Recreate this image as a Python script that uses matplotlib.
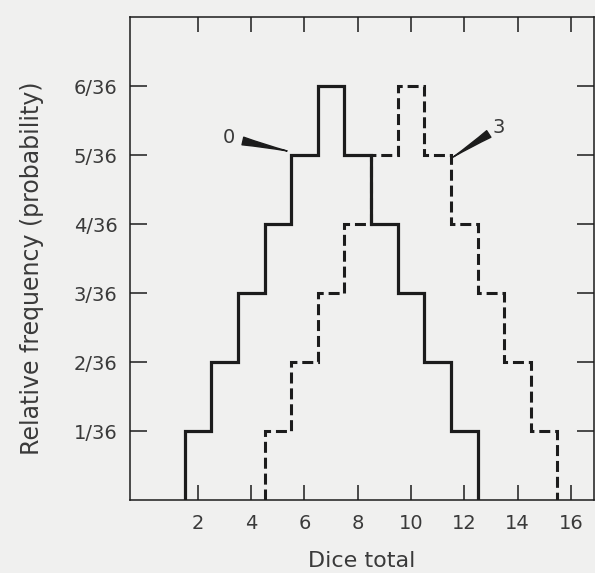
import matplotlib

matplotlib.use("Agg")
import matplotlib.pyplot as plt
import numpy as np

# Two-dice totals and their counts out of 36
dice_totals = [2, 3, 4, 5, 6, 7, 8, 9, 10, 11, 12]
ways = [1, 2, 3, 4, 5, 6, 5, 4, 3, 2, 1]
shift = 3
x_ticks = [2, 4, 6, 8, 10, 12, 14, 16]
y_ticks = [1, 2, 3, 4, 5, 6]

INK = "#1c1c1c"
TEXT = "#3a3a3a"
PAPER = "#f0f0ef"

plt.rcParams["font.family"] = ["DejaVu Sans"]

fig = plt.figure(figsize=(5.95, 5.73), dpi=100, facecolor=PAPER)
ax = fig.add_axes([0.2185, 0.1274, 0.7798, 0.8429], facecolor=PAPER)

probs = np.array(ways) / 36
edges = np.append(np.array(dice_totals) - 0.5, dice_totals[-1] + 0.5)

ax.stairs(probs, edges, baseline=0, color=INK, linewidth=2.3)
ax.stairs(probs, edges + shift, baseline=0, color=INK, linewidth=2.2,
          linestyle=(0, (3.6, 1.6)))

wedge = dict(arrowstyle="wedge,tail_width=0.4,shrink_factor=0.4", fc=INK, ec=INK)
ax.annotate("0", xy=(5.45, 5.05 / 36), xytext=(3.15, 5.25 / 36), fontsize=14,
            color=TEXT, ha="center", va="center",
            arrowprops=dict(wedge, shrinkA=4))
ax.annotate("3", xy=(11.5, 4.95 / 36), xytext=(13.3, 5.4 / 36), fontsize=14,
            color=TEXT, ha="center", va="center",
            arrowprops=dict(wedge, shrinkA=1))

ax.set_xlim(-0.55, 16.87)
ax.set_ylim(0, 7 / 36)
ax.set_xticks(x_ticks)
ax.set_xticklabels([str(t) for t in x_ticks])
ax.set_yticks(np.array(y_ticks) / 36)
ax.set_yticklabels([f"{k}/36" for k in y_ticks])

ax.tick_params(axis="x", direction="in", length=11, width=1.1, top=True,
               pad=10, labelsize=14, labelcolor=TEXT, color=INK)
ax.tick_params(axis="y", direction="in", length=12, width=1.1, right=True,
               pad=9, labelsize=14, labelcolor=TEXT, color=INK)
for spine in ax.spines.values():
    spine.set_linewidth(1.1)
    spine.set_color(INK)

ax.set_xlabel("Dice total", fontsize=16, color=TEXT, labelpad=13)
ax.set_ylabel("Relative frequency (probability)", fontsize=17, color=TEXT)
ax.yaxis.set_label_coords(-0.185, 0.48)

fig.savefig("out.png", dpi=100, facecolor=PAPER)
